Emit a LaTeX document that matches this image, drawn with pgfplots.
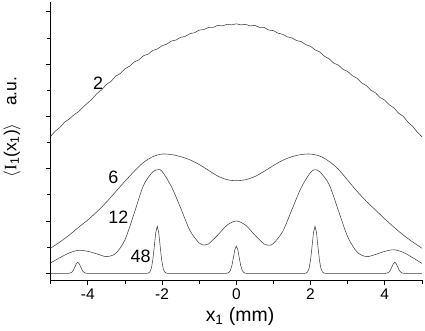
\documentclass[border=0pt]{standalone}
\usepackage{pgfplots}
\pgfplotsset{compat=1.18}
\usepackage{fontspec}
\setmainfont{Liberation Sans}
\newfontfamily\serifI{Liberation Serif}
\begin{document}
\begin{tikzpicture}
\begin{axis}[
  scale only axis,
  width=371.2bp, height=278bp,
  xmin=-5, xmax=5, ymin=-0.128, ymax=5.187,
  axis lines=left,
  axis line style={-, line width=0.9pt},
  tick style={black, line width=0.7pt},
  tick align=outside,
  major tick length=5bp, minor tick length=3.5bp,
  xtick={-4,-2,0,2,4},
  minor xtick={-5,-3,-1,1,3,5},
  ytick={0,1,2,3,4,5},
  minor ytick={0.5,1.5,2.5,3.5,4.5},
  yticklabels={},
  xticklabel style={font=\fontsize{15.5}{18}\selectfont},
  /pgf/number format/assume math mode=true,
  xlabel={x\textsubscript{1} (mm)},
  xlabel style={font=\fontsize{19.5}{22}\selectfont, at={(axis description cs:0.51,-0.131)}, anchor=center},
  ylabel={$\langle$\serifI I\textsubscript{\normalfont 1}\normalfont(x\textsubscript{1})$\rangle$\hspace{1em}a.u.},
  ylabel style={font=\fontsize{17.5}{20}\selectfont, at={(axis description cs:-0.104,0.55)}, anchor=center, rotate=0},
  clip=false,
]
% curve 2
\addplot[black!75, line width=0.55pt] coordinates {
(-5.000,2.62) (-4.875,2.72) (-4.750,2.79) (-4.625,2.89) (-4.500,2.95) (-4.375,3.03) (-4.250,3.09) (-4.125,3.18)
(-4.000,3.26) (-3.875,3.34) (-3.750,3.44) (-3.625,3.51) (-3.500,3.61) (-3.375,3.67) (-3.250,3.77) (-3.125,3.82)
(-3.000,3.91) (-2.875,3.96) (-2.750,4.04) (-2.625,4.08) (-2.500,4.16) (-2.375,4.19) (-2.250,4.26) (-2.125,4.29)
(-2.000,4.35) (-1.875,4.38) (-1.750,4.44) (-1.625,4.46) (-1.500,4.51) (-1.375,4.53) (-1.250,4.58) (-1.125,4.60)
(-1.000,4.65) (-0.875,4.66) (-0.750,4.70) (-0.625,4.70) (-0.500,4.74) (-0.375,4.73) (-0.250,4.76) (-0.125,4.75)
(0.000,4.77) (0.125,4.75) (0.250,4.76) (0.375,4.73) (0.500,4.74) (0.625,4.70) (0.750,4.70) (0.875,4.65)
(1.000,4.64) (1.125,4.59) (1.250,4.57) (1.375,4.52) (1.500,4.50) (1.625,4.45) (1.750,4.43) (1.875,4.37)
(2.000,4.34) (2.125,4.27) (2.250,4.23) (2.375,4.15) (2.500,4.10) (2.625,4.02) (2.750,3.98) (2.875,3.90)
(3.000,3.86) (3.125,3.78) (3.250,3.73) (3.375,3.64) (3.500,3.59) (3.625,3.50) (3.750,3.45) (3.875,3.36)
(4.000,3.31) (4.125,3.22) (4.250,3.16) (4.375,3.06) (4.500,3.00) (4.625,2.89) (4.750,2.81) (4.875,2.70)
(5.000,2.61)
};
% curve 6
\addplot[black!75, line width=0.55pt, smooth] coordinates {
(-5.0,0.48) (-4.75,0.60) (-4.5,0.73) (-4.25,0.88) (-4.0,1.02) (-3.75,1.18) (-3.5,1.36) (-3.25,1.56)
(-3.0,1.76) (-2.75,1.95) (-2.5,2.12) (-2.25,2.23) (-2.0,2.28) (-1.75,2.27) (-1.5,2.23) (-1.25,2.17)
(-1.0,2.08) (-0.75,1.97) (-0.5,1.86) (-0.25,1.79) (0,1.77)
(0.25,1.79) (0.5,1.85) (0.75,1.95) (1.0,2.06) (1.25,2.16) (1.5,2.23) (1.75,2.27) (2.0,2.28)
(2.25,2.24) (2.5,2.14) (2.75,1.99) (3.0,1.78) (3.25,1.57) (3.5,1.38) (3.75,1.21) (4.0,1.04)
(4.25,0.88) (4.5,0.73) (4.75,0.60) (5.0,0.48)
};
% curve 12
\addplot[black!75, line width=0.55pt, smooth] coordinates {
(-5.0,0.20) (-4.75,0.30) (-4.5,0.39) (-4.25,0.44) (-4.0,0.42) (-3.75,0.37) (-3.5,0.32) (-3.25,0.38)
(-3.0,0.64) (-2.75,1.15) (-2.5,1.68) (-2.25,1.94) (-2.1,1.98) (-2.0,1.95) (-1.75,1.66) (-1.5,1.25)
(-1.25,0.82) (-1.0,0.58) (-0.85,0.54) (-0.75,0.56) (-0.5,0.73) (-0.25,0.92) (0,1.00)
(0.25,0.92) (0.5,0.73) (0.75,0.56) (0.9,0.54) (1.0,0.57) (1.25,0.80) (1.5,1.22) (1.75,1.64)
(2.0,1.93) (2.12,1.98) (2.25,1.94) (2.5,1.70) (2.75,1.20) (3.0,0.70) (3.25,0.41) (3.5,0.32)
(3.75,0.36) (4.0,0.42) (4.25,0.45) (4.5,0.40) (4.75,0.30) (5.0,0.19)
};
% curve 48
\addplot[black!75, line width=0.55pt] coordinates {
(-5,0) (-4.55,0) (-4.51,0.001) (-4.47,0.006) (-4.43,0.022) (-4.39,0.058) (-4.35,0.119) (-4.31,0.182) (-4.27,0.21)
(-4.23,0.182) (-4.19,0.119) (-4.15,0.058) (-4.11,0.022) (-4.07,0.006) (-4.03,0.001) (-3.99,0)
(-2.41,0) (-2.37,0.005) (-2.33,0.026) (-2.29,0.093) (-2.25,0.250) (-2.21,0.509) (-2.17,0.780) (-2.13,0.90)
(-2.09,0.780) (-2.05,0.509) (-2.01,0.250) (-1.97,0.093) (-1.93,0.026) (-1.89,0.005) (-1.85,0)
(-0.28,0) (-0.24,0.003) (-0.20,0.015) (-0.16,0.054) (-0.12,0.145) (-0.08,0.294) (-0.04,0.451) (0,0.52)
(0.04,0.451) (0.08,0.294) (0.12,0.145) (0.16,0.054) (0.20,0.015) (0.24,0.003) (0.28,0)
(1.84,0) (1.88,0.005) (1.92,0.026) (1.96,0.093) (2.00,0.250) (2.04,0.509) (2.08,0.780) (2.12,0.90)
(2.16,0.780) (2.20,0.509) (2.24,0.250) (2.28,0.093) (2.32,0.026) (2.36,0.005) (2.40,0)
(3.99,0) (4.03,0.001) (4.07,0.006) (4.11,0.022) (4.15,0.058) (4.19,0.119) (4.23,0.182) (4.27,0.21)
(4.31,0.182) (4.35,0.119) (4.39,0.058) (4.43,0.022) (4.47,0.006) (4.51,0.001) (4.55,0) (5,0)
};
\node[font=\fontsize{18}{20}\selectfont] at (axis cs:-3.72,3.63) {2};
\node[font=\fontsize{18}{20}\selectfont] at (axis cs:-3.31,1.835) {6};
\node[font=\fontsize{18}{20}\selectfont] at (axis cs:-3.18,1.07) {12};
\node[font=\fontsize{18}{20}\selectfont] at (axis cs:-2.575,0.32) {48};
\end{axis}
\pgfresetboundingbox
\path[use as bounding box] ([shift={(-50.7bp,-51bp)}]current axis.south west) rectangle ([shift={(374.3bp,280bp)}]current axis.south west);
\end{tikzpicture}
\end{document}
